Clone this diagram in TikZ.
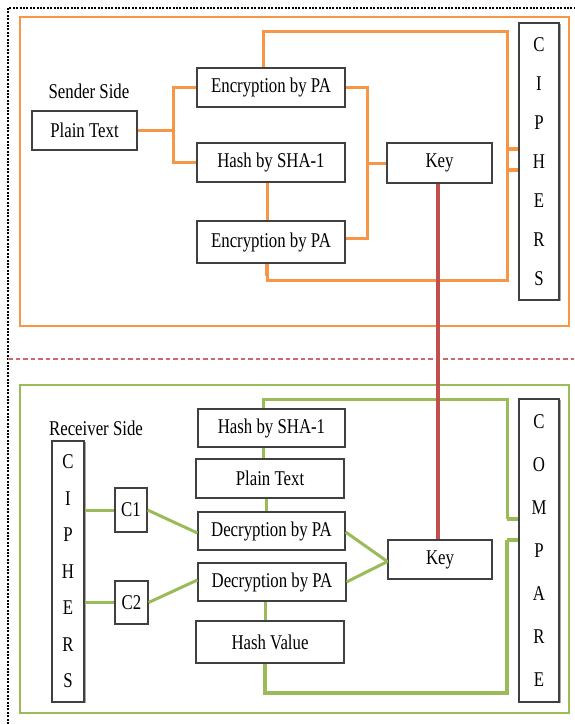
\documentclass[tikz,border=0pt]{standalone}
\usepackage{fontspec}
\setmainfont{Liberation Serif}[FakeStretch=0.8]
\definecolor{sorange}{HTML}{F79646}
\definecolor{rgreen}{HTML}{9BBB59}
\definecolor{kred}{HTML}{C0504D}
\definecolor{boxline}{HTML}{404040}
\tikzset{
  box/.style={draw=boxline, line width=1.2pt, inner sep=0pt, fill=white,
    font=\fontsize{21}{23}\selectfont},
  column/.style={box, align=center, font=\fontsize{21}{#1}\selectfont},
  shadowline/.style={draw=gray!70, line width=1.8pt},
  sidetitle/.style={inner sep=0pt, font=\fontsize{21}{23}\selectfont},
  oline/.style={draw=sorange, line width=3pt},
  ostub/.style={draw=sorange, line width=4.8pt},
  gline/.style={draw=rgreen, line width=3pt},
  gstub/.style={draw=rgreen, line width=4.6pt},
  keyline/.style={draw=kred, line width=3.4pt},
}
\begin{document}
\begin{tikzpicture}[x=1pt,y=-1pt]
\useasboundingbox (0,0) rectangle (574,724);

% outer dotted frame and the dashed divider
\draw[line width=2.4pt, dash pattern=on 2pt off 1.4pt] (8,724) -- (8,8) -- (574,8);
\draw[draw=kred!85, line width=1.4pt, dash pattern=on 4.5pt off 3pt] (8,359) -- (574,359);

% side frames
\draw[draw=sorange, line width=2.8pt] (20,17) rectangle (569,326);
\draw[draw=rgreen, line width=2.8pt] (20,385) rectangle (569,713);

% ---------------- sender side ----------------
\node[sidetitle] (stitle) at (89,91) {Sender Side};
\node[box, minimum width=105pt, minimum height=39pt] (plain) at (84.5,130.5) {Plain Text};
\node[box, minimum width=148pt, minimum height=39pt] (enc1) at (271,87.5) {Encryption by PA};
\node[box, minimum width=148pt, minimum height=39pt] (hash1) at (271,162.5) {Hash by SHA-1};
\node[box, minimum width=148pt, minimum height=42pt] (enc2) at (271,242) {Encryption by PA};
\node[box, minimum width=105pt, minimum height=40pt] (key1) at (439.5,163) {Key};
\draw[shadowline] (560.5,24) -- (560.5,301);
\node[column=39, minimum width=40pt, minimum height=277pt] (ciph1) at (539,161.5) {C\\I\\P\\H\\E\\R\\S};

\coordinate (sj) at (173,130.5);
\coordinate (ltop) at (507,31);
\coordinate (lbot) at (507,280);
\coordinate (kx) at (367,0);
\coordinate (os1) at (507,149);
\coordinate (os2) at (507,170);

\draw[oline] (plain.east) -- (sj);
\draw[oline] (enc1.west) -| (sj) |- (hash1.west);
\draw[oline] ([xshift=-8pt]enc1.north) |- (ltop) -- (lbot) -| ([xshift=-4pt]enc2.south);
\draw[draw=sorange, line width=4pt] ([xshift=-4pt]enc2.south) -- ++(0,12);
\draw[oline] (enc1.east) -- (enc1.east -| kx) -- ([yshift=4pt]enc2.east -| kx) -- ([yshift=4pt]enc2.east);
\draw[oline] (key1.west) -- (key1.west -| kx);
\draw[oline] ([xshift=-4pt]hash1.south) -- ([xshift=-4pt]enc2.north);
\draw[ostub] (os1) -- (os1 -| ciph1.west);
\draw[ostub] (os2) -- (os2 -| ciph1.west);

% ---------------- receiver side ----------------
\node[sidetitle] (rtitle) at (96,428) {Receiver Side};
\draw[shadowline] (85.5,442) -- (85.5,703);
\node[column=36.5, minimum width=32pt, minimum height=261pt] (ciph2) at (68,571.5) {C\\I\\P\\H\\E\\R\\S};
\node[box, minimum width=32pt, minimum height=44pt] (c1) at (131,510) {C1};
\node[box, minimum width=33pt, minimum height=43pt] (c2) at (131.5,602.5) {C2};
\node[box, minimum width=147pt, minimum height=38pt] (hash2) at (271.5,428) {Hash by SHA-1};
\node[box, minimum width=148pt, minimum height=39pt] (plain2) at (270,478.5) {Plain Text};
\node[box, minimum width=147pt, minimum height=38pt] (dec1) at (271.5,531) {Decryption by PA};
\node[box, minimum width=148pt, minimum height=38pt] (dec2) at (272,582) {Decryption by PA};
\node[box, minimum width=148pt, minimum height=42pt] (hashv) at (270,642) {Hash Value};
\node[box, minimum width=104pt, minimum height=39pt] (key2) at (440,559.5) {Key};
\draw[shadowline] (560.5,400) -- (560.5,703);
\node[column=43, minimum width=40pt, minimum height=303pt] (comp) at (539,550.5) {C\\O\\M\\P\\A\\R\\E};

\coordinate (gtop) at (507,399);
\coordinate (gs1) at (507,519);
\coordinate (gbot) at (507,693);
\coordinate (gs2) at (507,540);

\draw[gline] ([xshift=-8pt]hash2.north) |- (gtop) -- (gs1);
\draw[gstub] (gs1) -- (gs1 -| comp.west);
\draw[gline] ([xshift=-8pt]hash2.south) -- ([xshift=-8pt]hash2.south |- plain2.north);
\draw[gline] ([xshift=-4pt]plain2.south) -- ([xshift=-4pt]plain2.south |- dec1.north);
\draw[gline] (ciph2.east |- c1.west) -- (c1.west);
\draw[gline] (c1.east) -- ([yshift=-2pt]dec1.west);
\draw[gline] (ciph2.east |- c2.west) -- (c2.west);
\draw[gline] (c2.east) -- ([yshift=2pt]dec2.west);
\draw[gline] ([yshift=-1pt]dec1.east) -- ([yshift=-2pt]key2.west);
\draw[gline] (dec2.east) -- ([yshift=-2pt]key2.west);
\draw[gline] ([xshift=-7pt]dec2.south) -- ([xshift=-7pt]dec2.south |- hashv.north);
\draw[draw=rgreen, line width=3.6pt] ([xshift=-5pt]hashv.south) |- (gbot) -- (gs2);
\draw[gstub] (gs2) -- (gs2 -| comp.west);

% key link between the two sides
\draw[keyline] ([xshift=-1.5pt]key1.south) -- ([xshift=-2pt]key2.north);
\end{tikzpicture}
\end{document}
